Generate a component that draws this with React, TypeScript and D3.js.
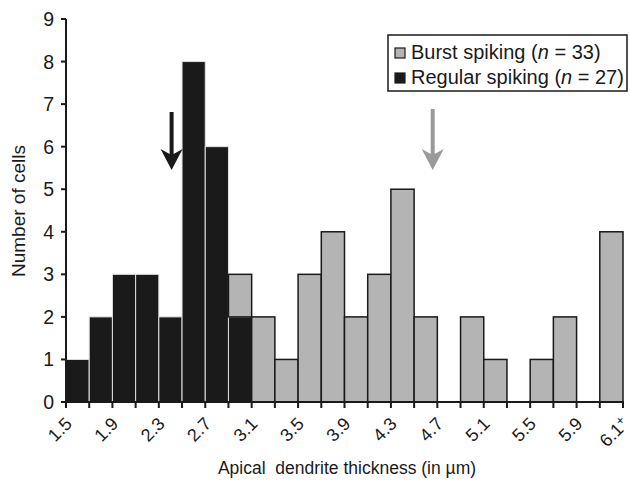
import React from "react";
import * as d3 from "d3";

const binStarts = [1.5,1.7,1.9,2.1,2.3,2.5,2.7,2.9,3.1,3.3,3.5,3.7,3.9,4.1,4.3,4.5,4.7,4.9,5.1,5.3,5.5,5.7,5.9,6.1];
const regularCounts = [1,2,3,3,2,8,6,2,0,0,0,0,0,0,0,0,0,0,0,0,0,0,0,0];
const burstCounts = [0,0,0,0,0,0,0,1,2,1,3,4,2,3,5,2,0,2,1,0,1,2,0,4];
const tickLabels = ["1.5","1.9","2.3","2.7","3.1","3.5","3.9","4.3","4.7","5.1","5.5","5.9","6.1+"];
const yTicks = [0,1,2,3,4,5,6,7,8,9];
const meanValues = [2.41, 4.66];
const meanColors = ["#1a1a1a", "#9a9a9a"];
const legendItems = [
  { label: "Burst spiking", n: 33, fill: "#b4b4b4" },
  { label: "Regular spiking", n: 27, fill: "#1a1a1a" },
];

const BIN = 0.2;
const FONT = "Liberation Sans, Arial, Helvetica, sans-serif";

export default function App() {
  const x = d3.scaleLinear().domain([1.5, 6.3]).range([66, 623]);
  const y = d3.scaleLinear().domain([0, 9]).range([402, 19]);
  const allTicks = d3.range(0, 25).map((i) => 1.5 + i * BIN);

  const arrowPath = (cx: number, top: number, tip: number) => {
    const hw = 11;
    const headH = 21;
    const sw = 2;
    return `M${cx - sw},${top} L${cx + sw},${top} L${cx + sw},${tip - headH + 5} L${cx + hw},${tip - headH} L${cx},${tip} L${cx - hw},${tip - headH} L${cx - sw},${tip - headH + 5} Z`;
  };

  return (
    <svg width={630} height={481} style={{ position: "absolute", left: 0, top: 0, background: "#fff" }} fontFamily={FONT}>
      {binStarts.map((b, i) =>
        regularCounts[i] > 0 ? (
          <rect key={"r" + i} x={x(b)} y={y(regularCounts[i])} width={x(b + BIN) - x(b)} height={y(0) - y(regularCounts[i])}
            fill="#1a1a1a" stroke="#e0e0e0" strokeWidth={1} />
        ) : null
      )}
      {binStarts.map((b, i) =>
        burstCounts[i] > 0 ? (
          <rect key={"b" + i} x={x(b)} y={y(regularCounts[i] + burstCounts[i])} width={x(b + BIN) - x(b)}
            height={y(regularCounts[i]) - y(regularCounts[i] + burstCounts[i])}
            fill="#b4b4b4" stroke="#1a1a1a" strokeWidth={1.5} />
        ) : null
      )}
      <line x1={66} x2={66} y1={y(9)} y2={y(0)} stroke="#1a1a1a" strokeWidth={2} />
      <line x1={66} x2={624} y1={y(0)} y2={y(0)} stroke="#1a1a1a" strokeWidth={2} />
      {yTicks.map((t) => (
        <g key={"yt" + t}>
          <line x1={61} x2={66} y1={y(t)} y2={y(t)} stroke="#1a1a1a" strokeWidth={2} />
          <text x={54} y={y(t)} dy="0.36em" textAnchor="end" fontSize={19.5} fill="#1a1a1a">{t}</text>
        </g>
      ))}
      {allTicks.map((t, i) => (
        <line key={"xt" + i} x1={x(t)} x2={x(t)} y1={y(0)} y2={y(0) + 6} stroke="#1a1a1a" strokeWidth={2} />
      ))}
      {tickLabels.map((l, i) => {
        const px = x(1.5 + i * 2 * BIN);
        return (
          <text key={"xl" + i} transform={`translate(${px + 7},${425}) rotate(-45)`} textAnchor="end" fontSize={18} fill="#1a1a1a">
            {l.endsWith("+") ? (<>{l.slice(0, -1)}<tspan fontSize={13} dy={-6}>+</tspan></>) : l}
          </text>
        );
      })}
      <text x={347} y={474} textAnchor="middle" fontSize={17.5} fill="#1a1a1a" style={{ whiteSpace: "pre" }}>{"Apical  dendrite thickness (in µm)"}</text>
      <text transform={`translate(25,211) rotate(-90)`} textAnchor="middle" fontSize={19} fill="#1a1a1a">Number of cells</text>
      {meanValues.map((m, i) => (
        <path key={"ar" + i} d={arrowPath(x(m), i === 0 ? 112 : 109, 170)} fill={meanColors[i]} />
      ))}
      <rect x={388} y={35} width={239} height={56} fill="#fff" stroke="#1a1a1a" strokeWidth={1.5} />
      {legendItems.map((it, i) => (
        <g key={"lg" + i}>
          <rect x={395} y={48 + i * 25} width={10} height={10} fill={it.fill} stroke="#1a1a1a" strokeWidth={1.2} />
          <text x={411} y={59 + i * 25} fontSize={20} fill="#1a1a1a">
            {it.label} (<tspan fontStyle="italic">n</tspan> = {it.n})
          </text>
        </g>
      ))}
    </svg>
  );
}
